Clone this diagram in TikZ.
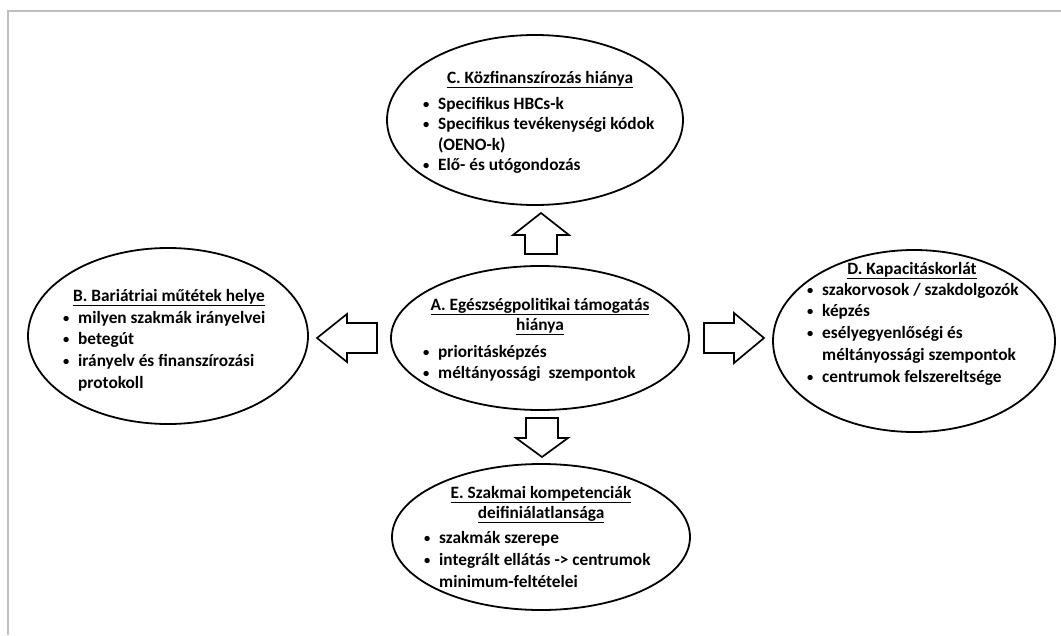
\documentclass[tikz,border=0pt]{standalone}
\usepackage{fontspec}
\setmainfont{Carlito}
\usetikzlibrary{shapes.geometric}
\definecolor{framegray}{RGB}{192,192,192}
\newcommand{\bul}{\makebox[15pt][l]{\raisebox{0.9pt}{\fontsize{12.5}{12.5}\selectfont•}}}
\newcommand{\ind}{\hspace*{15pt}}
\newcommand{\fs}[1]{\bfseries\fontsize{17.3}{#1}\selectfont}
\begin{document}
\begin{tikzpicture}[x=1pt,y=-1pt,
  oval/.style={ellipse, draw=black, line width=1.8pt, inner sep=0pt},
  blockarrow/.style={draw=black, line width=1.7pt, fill=white, line join=miter},
  ttl/.style={anchor=base, inner sep=0pt},
  items/.style={anchor=base west, inner sep=0pt}]
\useasboundingbox (0,0) rectangle (1061,635);
\draw[framegray, line width=2pt] (8,635) -- (8,11) -- (1061,11);

% ellipses
\node[oval, minimum width=296pt, minimum height=170pt] (C) at (535,120) {};
\node[oval, minimum width=298pt, minimum height=144pt] (A) at (540,338) {};
\node[oval, minimum width=298pt, minimum height=146pt] (E) at (541,537) {};
\node[oval, minimum width=280pt, minimum height=176pt] (B) at (168,336) {};
\node[oval, minimum width=282pt, minimum height=182pt] (D) at (914,341) {};

% C
\node[ttl, font=\fs{20.5}] (tC) at (540,83) {\underline{C. Közfinanszírozás hiánya}};
\node[items, font=\fs{20.5}] (iC) at (423,109) {\begin{tabular}[t]{@{}l@{}}
\bul Specifikus HBCs-k\\
\bul Specifikus tevékenységi kódok\\
\ind (OENO-k)\\
\bul Elő- és utógondozás
\end{tabular}};

% A
\node[ttl, font=\fs{20.5}] (tA) at (540,310) {\begin{tabular}[t]{@{}c@{}}\underline{A. Egészségpolitikai támogatás}\\ \underline{hiánya}\end{tabular}};
\node[items, font=\fs{21.5}] (iA) at (423,357) {\begin{tabular}[t]{@{}l@{}}
\bul prioritásképzés\\
\bul méltányossági\ \ szempontok
\end{tabular}};

% B
\node[ttl, font=\fs{21}] (tB) at (169,301) {\underline{B. Bariátriai műtétek helye}};
\node[items, font=\fs{21.7}] (iB) at (63,323) {\begin{tabular}[t]{@{}l@{}}
\bul milyen szakmák irányelvei\\
\bul betegút\\
\bul irányelv és finanszírozási\\
\ind protokoll
\end{tabular}};

% D
\node[ttl, font=\fs{21}] (tD) at (912,274) {\underline{D. Kapacitáskorlát}};
\node[items, font=\fs{21.8}] (iD) at (807,295) {\begin{tabular}[t]{@{}l@{}}
\bul szakorvosok / szakdolgozók\\
\bul képzés\\
\bul esélyegyenlőségi és\\
\ind méltányossági szempontok\\
\bul centrumok felszereltsége
\end{tabular}};

% E
\node[ttl, font=\fs{20}] (tE) at (541,498) {\begin{tabular}[t]{@{}c@{}}\underline{E. Szakmai kompetenciák}\\ \underline{deifiniálatlansága}\end{tabular}};
\node[items, font=\fs{22}] (iE) at (424,543) {\begin{tabular}[t]{@{}l@{}}
\bul szakmák szerepe\\
\bul integrált ellátás -> centrumok\\
\ind minimum-feltételei
\end{tabular}};

% block arrows
\draw[blockarrow] (525,254) -- (525,235) -- (513,235) -- (541,213) -- (569,235) -- (557,235) -- (557,254) -- cycle;
\draw[blockarrow] (526,418) -- (558,418) -- (558,438) -- (568,438) -- (542,457) -- (516,438) -- (526,438) -- cycle;
\draw[blockarrow] (377,323) -- (347,323) -- (347,314) -- (317,338) -- (347,362) -- (347,353) -- (377,353) -- cycle;
\draw[blockarrow] (704,323) -- (734,323) -- (734,313) -- (764,338) -- (734,363) -- (734,353) -- (704,353) -- cycle;
\end{tikzpicture}
\end{document}
